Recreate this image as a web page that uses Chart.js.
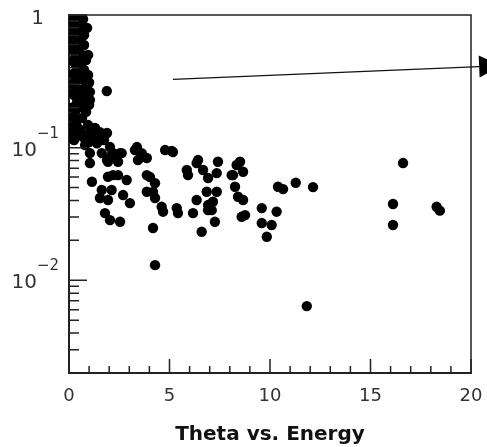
<!DOCTYPE html>
<html>
<head>
<meta charset="utf-8">
<script src="https://cdn.jsdelivr.net/npm/chart.js@4/dist/chart.umd.min.js"></script>
<style>
  html, body { margin: 0; padding: 0; background: #fff; }
  #wrap { width: 487px; height: 447px; }
</style>
</head>
<body>
<div id="wrap"><canvas id="chart" width="487" height="447"></canvas></div>
<script>
// Theta vs. Energy values
const energy = [
  0.15, 0.35, 0.55, 0.25, 0.75, 0.45, 0.75, 0.25, 0.65, 0.85,
  0.35, 0.75, 0.95, 0.45, 0.85, 0.55, 1.04, 0.25, 0.85, 0.55,
  1.04, 0.35, 0.85, 0.65, 0.25, 0.95, 0.55, 1.14, 1.44, 1.74,
  0.25, 0.8, 1.29, 0.2, 0.2, 0.2, 0.5, 0.6, 0.15, 0.4,
  0.1, 0.1, 0.45, 1.88, 1.04, 1.54, 1.89, 1.39, 2.04, 1.04,
  2.19, 2.54, 3.38, 3.63, 4.78, 5.17, 1.04, 1.89, 5.86, 6.35,
  1.14, 2.19, 4.03, 4.18, 1.63, 2.12, 2.62, 3.28, 3.62, 3.87,
  3.43, 5.11, 1.94, 2.44, 1.94, 2.44, 2.87, 1.63, 2.12, 1.54,
  1.94, 2.69, 3.03, 3.87, 4.28, 3.87, 4.28, 4.61, 4.68, 1.79,
  2.04, 2.54, 5.36, 5.42, 6.17, 4.18, 6.6, 6.42, 6.67, 7.41,
  6.92, 7.35, 6.85, 7.35, 6.35, 6.92, 7.16, 6.92, 7.26, 8.16,
  8.51, 8.26, 8.41, 8.59, 5.92, 7.1, 8.34, 8.66, 8.09, 8.66,
  8.76, 9.59, 10.33, 9.59, 10.08, 9.84, 10.4, 10.65, 11.28, 12.14,
  16.62, 16.12, 16.12, 18.29, 18.45, 11.83, 4.28,
  0.3, 0.7, 0.2, 0.6, 0.4, 0.2, 0.45, 0.3, 0.6, 0.2,
  0.65, 0.3, 0.2, 0.7, 0.4, 0.2, 0.75, 0.45, 0.35, 0.7,
  0.9, 1.0, 1.0, 0.95, 0.9, 1.0
];
const theta = [
  0.966, 0.917, 0.885, 0.798, 0.707, 0.648, 0.594, 0.545, 0.499, 0.458,
  0.42, 0.385, 0.353, 0.324, 0.297, 0.272, 0.263, 0.249, 0.237, 0.217,
  0.229, 0.192, 0.186, 0.167, 0.148, 0.148, 0.136, 0.1245, 0.118, 0.114,
  0.114, 0.1046, 0.141, 0.7, 0.45, 0.3, 0.38, 0.6, 0.2, 0.16,
  0.13, 0.55, 0.25, 0.267, 0.129, 0.131, 0.129, 0.108, 0.101, 0.091,
  0.091, 0.091, 0.101, 0.085, 0.0959, 0.0927, 0.0765, 0.0806, 0.0678, 0.0765,
  0.0553, 0.0621, 0.06, 0.0463, 0.091, 0.0879, 0.091, 0.0959, 0.091, 0.0835,
  0.0806, 0.0945, 0.0783, 0.0783, 0.0603, 0.0621, 0.057, 0.0479, 0.0479, 0.0417,
  0.0403, 0.0439, 0.0382, 0.0621, 0.054, 0.0465, 0.0417, 0.0358, 0.0329, 0.0321,
  0.0284, 0.0276, 0.035, 0.0321, 0.0321, 0.0248, 0.0232, 0.0806, 0.0678, 0.0783,
  0.059, 0.0643, 0.0465, 0.0465, 0.0403, 0.0369, 0.0391, 0.0338, 0.0276, 0.0621,
  0.0783, 0.0507, 0.0426, 0.0301, 0.0621, 0.0338, 0.074, 0.0658, 0.0621, 0.0403,
  0.031, 0.035, 0.0329, 0.027, 0.0261, 0.0213, 0.0507, 0.0487, 0.0543, 0.0504,
  0.0765, 0.0376, 0.0261, 0.0358, 0.0335, 0.00639, 0.013,
  0.95, 0.93, 0.85, 0.8, 0.74, 0.62, 0.52, 0.47, 0.42, 0.36,
  0.33, 0.32, 0.26, 0.26, 0.22, 0.17, 0.2, 0.14, 0.125, 0.12,
  0.125, 0.21, 0.31, 0.5, 0.8, 0.11
];

// axes
const xMajor = [0, 5, 10, 15, 20];
const yDecades = [1, 0.1, 0.01];
const yLabels = ['1', '10|−1', '10|−2'];

// arrow annotation (data coordinates: tail, tip)
const arrowTail = [5.17, 0.327];
const arrowTip = [21.5, 0.415];

const ink = '#222';
const textFont = '"DejaVu Sans", sans-serif';

const points = energy.map((e, i) => ({ x: e, y: theta[i] }));

// frame, inward ticks, y labels and the arrow
const decorations = {
  id: 'decorations',
  afterDraw(chart) {
    const { ctx, chartArea: a, scales: { x, y } } = chart;
    ctx.save();
    ctx.strokeStyle = ink;
    ctx.lineWidth = 1.5;
    ctx.beginPath();
    ctx.moveTo(a.left, a.top);
    ctx.lineTo(a.right, a.top);
    ctx.lineTo(a.right, a.bottom);
    ctx.stroke();

    // x ticks
    ctx.beginPath();
    for (let v = x.min; v <= x.max; v++) {
      const px = x.getPixelForValue(v);
      const len = xMajor.includes(v) ? 14 : 7;
      ctx.moveTo(px, a.bottom);
      ctx.lineTo(px, a.bottom - len);
    }
    // y ticks
    for (let d = 0.001; d <= 1; d *= 10) {
      for (let m = 1; m <= 9; m++) {
        const v = d * m;
        if (v < y.min - 1e-9 || v > y.max + 1e-9) continue;
        const py = y.getPixelForValue(v);
        const len = m === 1 ? 18 : 10;
        ctx.moveTo(a.left, py);
        ctx.lineTo(a.left + len, py);
      }
    }
    ctx.stroke();

    // y labels
    ctx.fillStyle = '#333';
    ctx.textAlign = 'right';
    ctx.textBaseline = 'alphabetic';
    yDecades.forEach((v, i) => {
      const py = y.getPixelForValue(v);
      const parts = yLabels[i].split('|');
      if (parts.length === 1) {
        ctx.font = '20px ' + textFont;
        ctx.fillText(parts[0], 44, py + 9);
      } else {
        ctx.font = '20px ' + textFont;
        ctx.fillText(parts[0], 37, py + 8);
        ctx.textAlign = 'left';
        ctx.font = '15px ' + textFont;
        ctx.fillText(parts[1], 37, py - 10);
        ctx.textAlign = 'right';
      }
    });

    // arrow
    const x0 = x.getPixelForValue(arrowTail[0]);
    const y0 = y.getPixelForValue(arrowTail[1]);
    const x1 = x.getPixelForValue(arrowTip[0]);
    const y1 = y.getPixelForValue(arrowTip[1]);
    const ang = Math.atan2(y1 - y0, x1 - x0);
    const headLen = 22, headHalf = 11;
    const bx = x1 - headLen * Math.cos(ang);
    const by = y1 - headLen * Math.sin(ang);
    ctx.strokeStyle = '#111';
    ctx.lineWidth = 1.3;
    ctx.beginPath();
    ctx.moveTo(x0, y0);
    ctx.lineTo(bx, by);
    ctx.stroke();
    ctx.fillStyle = '#000';
    ctx.beginPath();
    ctx.moveTo(x1, y1);
    ctx.lineTo(bx + headHalf * Math.sin(ang), by - headHalf * Math.cos(ang));
    ctx.lineTo(bx - headHalf * Math.sin(ang), by + headHalf * Math.cos(ang));
    ctx.closePath();
    ctx.fill();
    ctx.restore();
  }
};

new Chart(document.getElementById('chart'), {
  type: 'scatter',
  data: {
    datasets: [{
      data: points,
      backgroundColor: '#000',
      borderWidth: 0,
      pointRadius: 5.2,
      pointHoverRadius: 5.2
    }]
  },
  options: {
    responsive: false,
    animation: false,
    events: [],
    layout: { padding: { top: 15, right: 16, left: 0, bottom: 0 } },
    plugins: { legend: { display: false }, tooltip: { enabled: false } },
    scales: {
      x: {
        type: 'linear',
        min: 0,
        max: 20,
        grid: { display: false },
        border: { display: true, color: ink, width: 2 },
        ticks: {
          stepSize: 5,
          padding: 5,
          color: '#333',
          font: { family: textFont, size: 18 }
        },
        title: {
          display: true,
          text: 'Theta vs. Energy',
          color: '#111',
          font: { family: textFont, size: 20, weight: 'bold' },
          padding: { top: 0, bottom: 0 }
        },
        afterFit(axis) {
          axis.height = 74;
          axis.paddingLeft = 0;
          axis.paddingRight = 0;
        }
      },
      y: {
        type: 'logarithmic',
        min: 0.002,
        max: 1,
        grid: { display: false },
        border: { display: true, color: ink, width: 2 },
        ticks: { display: false },
        afterFit(axis) { axis.width = 69; }
      }
    }
  },
  plugins: [decorations]
});
</script>
</body>
</html>
